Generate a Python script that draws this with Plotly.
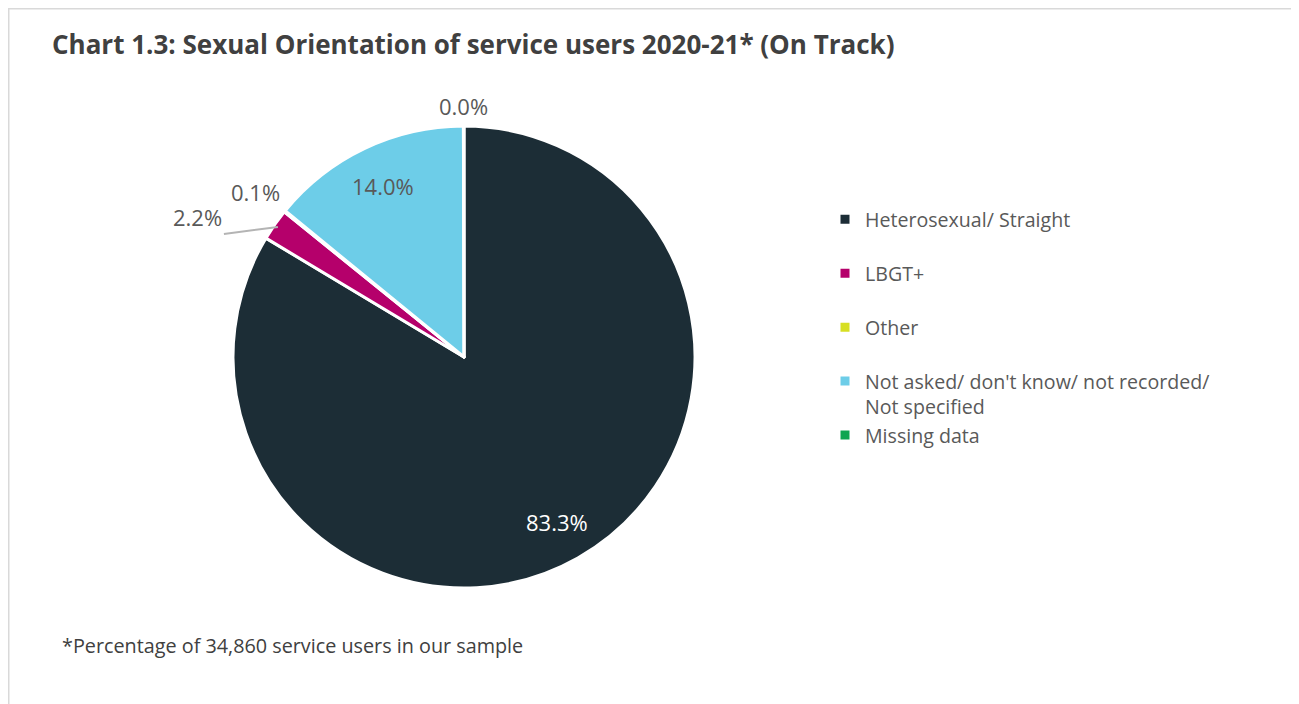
import math
import plotly.graph_objects as go

labels = [
    "Heterosexual/ Straight",
    "LBGT+",
    "Other",
    "Not asked/ don't know/ not recorded/<br>Not specified",
    "Missing data",
]
values = [83.3, 2.2, 0.1, 14.0, 0.04]
colors = ["#1c2d36", "#b5006b", "#d7df23", "#6dcde8", "#0da550"]
# label placement style per slice: inside / outside / leader
label_modes = ["inside", "leader", "outside", "inside", "outside"]
label_colors = ["#ffffff", "#595959", "#595959", "#595959", "#595959"]

title_text = "Chart 1.3: Sexual Orientation of service users 2020-21* (On Track)"
footnote = "*Percentage of 34,860 service users in our sample"

W, H = 1299, 704
# pie geometry in figure pixels
CX, CY, R = 456, 349, 231

legend_labels = [
    lab + ("<br> " if "<br>" not in lab and lab != "Missing data" else "")
    for lab in labels
]

fig = go.Figure(
    go.Pie(
        labels=legend_labels,
        values=values,
        sort=False,
        direction="clockwise",
        rotation=0,
        marker=dict(colors=colors, line=dict(color="white", width=3)),
        textinfo="none",
        domain=dict(x=[(CX - R) / W, (CX + R) / W], y=[1 - (CY + R) / H, 1 - (CY - R) / H]),
        hoverinfo="label+value",
        automargin=False,
    )
)


def to_paper(X, Y):
    return X / W, 1 - Y / H


annotations = []
total = sum(values)
cum = 0.0
for v, mode, col in zip(values, label_modes, label_colors):
    mid = (cum + v / 2) / total * 2 * math.pi
    cum += v
    s, c = math.sin(mid), math.cos(mid)
    txt = f"{v:.1f}%"
    font = dict(family="Open Sans", size=22, color=col)
    if mode == "inside":
        r = 0.82 * R
        px, py = to_paper(CX + r * s, CY - r * c)
        annotations.append(dict(text=txt, x=px, y=py, xref="paper", yref="paper",
                                showarrow=False, xanchor="center", yanchor="middle", font=font))
    elif mode == "outside":
        r = R + 3
        px, py = to_paper(CX + r * s, CY - r * c)
        xa = "center" if abs(s) < 0.3 else ("left" if s > 0 else "right")
        ya = "middle" if abs(c) < 0.3 else ("bottom" if c > 0 else "top")
        annotations.append(dict(text=txt, x=px, y=py, xref="paper", yref="paper",
                                showarrow=False, xanchor=xa, yanchor=ya, font=font))
    else:
        px, py = to_paper(CX + (R - 4) * s, CY - (R - 4) * c)
        annotations.append(dict(text=txt, x=px, y=py, xref="paper", yref="paper",
                                showarrow=True, arrowhead=0, arrowwidth=2,
                                arrowcolor="#b4b4b4", ax=-54, ay=7,
                                xanchor="right", yanchor="bottom", font=font))

annotations.append(
    dict(
        text=footnote,
        xref="paper",
        yref="paper",
        x=52 / W,
        y=1 - 637 / H,
        xanchor="left",
        yanchor="middle",
        showarrow=False,
        font=dict(family="Open Sans", size=19.8, color="#404040"),
    )
)

fig.update_layout(
    width=W,
    height=H,
    margin=dict(l=0, r=0, t=0, b=0),
    paper_bgcolor="white",
    font=dict(family="Open Sans", color="#595959"),
    title=dict(
        text=title_text,
        x=44 / W,
        xanchor="left",
        y=1 - 37 / H,
        yanchor="middle",
        font=dict(family="Open Sans", size=26, color="#404040", weight="bold"),
    ),
    legend=dict(
        x=817 / W,
        xanchor="left",
        y=1 - 192 / H,
        yanchor="top",
        font=dict(family="Open Sans", size=19.6, color="#595959"),
        valign="top",
        traceorder="normal",
    ),
    showlegend=True,
    annotations=annotations,
    shapes=[
        dict(type="line", xref="paper", yref="paper", x0=0, x1=0, y0=0, y1=1,
             line=dict(color="#d9d9d9", width=3)),
        dict(type="line", xref="paper", yref="paper", x0=0, x1=1, y0=1, y1=1,
             line=dict(color="#d9d9d9", width=3)),
    ],
)

fig.write_html("out.html")
